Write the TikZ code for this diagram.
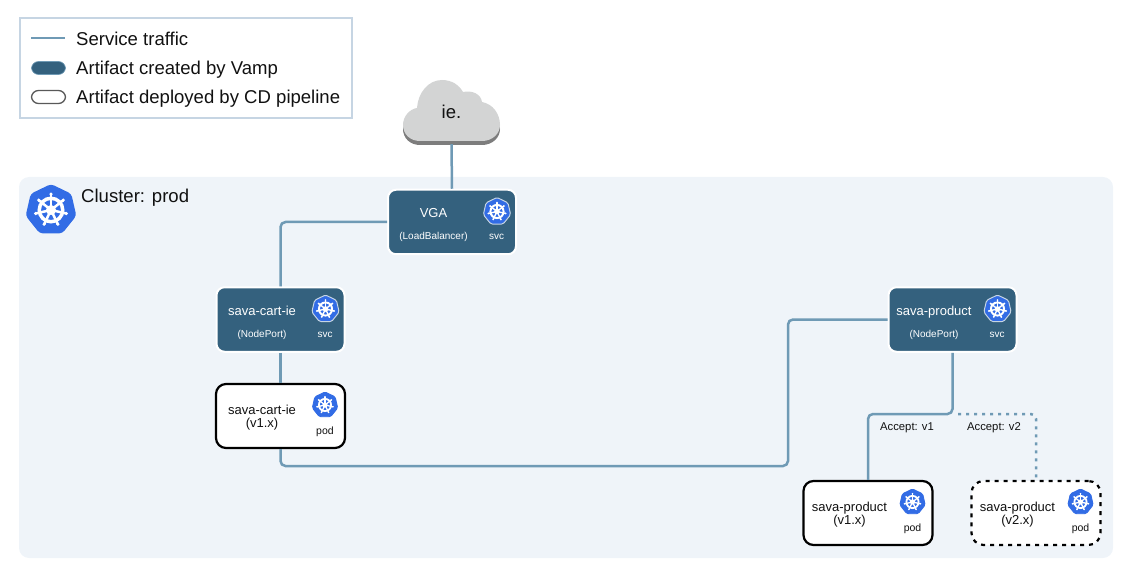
\documentclass[tikz,border=0pt]{standalone}
\usepackage{fontspec,xcolor}
\setmainfont{Liberation Sans}
\usetikzlibrary{calc}
\definecolor{ink}{HTML}{111111}
\definecolor{clusterbg}{HTML}{EFF4F9}
\definecolor{legendline}{HTML}{C6D5E3}
\definecolor{traffic}{HTML}{6F9AB5}
\definecolor{vampfill}{HTML}{34617E}
\definecolor{kubeblue}{HTML}{326CE5}
\definecolor{cloudtop}{HTML}{D3D4D4}
\definecolor{cloudlow}{HTML}{7D7D7D}
\newcommand{\legendfont}{\fontsize{18.55}{21}\selectfont}
\newcommand{\titlefont}{\fontsize{13}{15}\selectfont}
\newcommand{\microfont}{\fontsize{10.5}{12}\selectfont}
\tikzset{traffic line/.style={traffic,line width=2.5pt,rounded corners=5pt},
  canary line/.style={traffic,line width=2.5pt,dash pattern=on 3pt off 5pt,rounded corners=5pt},
  svcbox/.style={rectangle,fill=vampfill,draw=white,line width=2pt,rounded corners=8pt,
    minimum width=128pt,minimum height=64.5pt,inner sep=0},
  podbox/.style={rectangle,fill=white,draw=black,line width=2.2pt,rounded corners=10pt,
    minimum width=129pt,minimum height=64pt,inner sep=0},
  plain text/.style={inner sep=0,text=ink,align=center,anchor=base},
  light text/.style={inner sep=0,text=white,align=center,anchor=base},
  legendswatch/.style={rectangle,rounded corners=7pt,minimum width=34pt,minimum height=13pt,inner sep=0}}
\newcommand{\helm}[3][kubeblue]{\begin{scope}[shift={(#2)},x=#3pt,y=#3pt]
  \filldraw[fill=kubeblue,draw=#1,line width={0.07*#3pt},rounded corners={0.12*#3pt}]
    (90:1) \foreach \k in {1,...,6} {-- ({90+\k*360/7}:1)} -- cycle;
  \draw[white,line width={0.14*#3pt}] (0,0) circle (0.47);
  \fill[white] (0,0) circle (0.2);
  \foreach \k in {0,...,6} {
    \draw[white,line width={0.1*#3pt}] (0,0) -- ({90+\k*360/7}:0.63);
    \fill[white] ({90+\k*360/7}:0.63) circle (0.07);}
\end{scope}}
\newcommand{\svc}[4]{\node[svcbox] (#1) at (#2) {};
  \node[light text,font=\titlefont] (#1-title) at ($(#1)+(-18.5,4.5)$) {#3};
  \node[light text,font=\fontsize{10}{12}\selectfont] (#1-kind) at ($(#1)+(-18.5,-17.5)$) {#4};
  \node[light text,font=\fontsize{10}{12}\selectfont] (#1-tag) at ($(#1)+(44.5,-17.5)$) {svc};
  \coordinate (#1-icon) at ($(#1)+(45,10.5)$);
  \helm[legendline]{#1-icon}{14}}
\newcommand{\pod}[5][podbox]{\node[#1] (#2) at (#3) {};
  \node[plain text,font=\titlefont] (#2-title) at ($(#2)+(-18.5,1.5)$) {#4};
  \node[plain text,font=\titlefont] (#2-version) at ($(#2)+(-18.5,-11.5)$) {#5};
  \node[plain text,font=\microfont] (#2-tag) at ($(#2)+(44.5,-18)$) {pod};
  \coordinate (#2-icon) at ($(#2)+(44.5,11)$);
  \helm{#2-icon}{13}}
\newcommand{\cloudoutline}{(420,433) .. controls (410,433) and (403,440) .. (403,449)
  .. controls (403,458) and (410,465) .. (417,466)
  .. controls (418,481) and (428,494) .. (442,494)
  .. controls (452,494) and (459,489) .. (463,482)
  .. controls (472,484) and (481,480) .. (482,472)
  .. controls (493,470) and (500,460) .. (500,449)
  .. controls (500,440) and (492,433) .. (482,433) -- cycle}

\begin{document}
\begin{tikzpicture}[x=1pt,y=1pt]
\useasboundingbox (0,0) rectangle (1130,574);
\fill[clusterbg,rounded corners=10pt] (19,16) rectangle (1113,397);
\draw[legendline,line width=2pt] (19.5,455.5) rectangle (351.5,555.5);

\coordinate (legend-a) at (31,536);
\coordinate (legend-b) at (65,536);
\draw[traffic,line width=2pt] (legend-a) -- (legend-b);
\node[plain text,anchor=base west,font=\legendfont] (legend-traffic) at (76,528) {Service traffic};
\node[legendswatch,fill=vampfill,draw=traffic,line width=0.6pt] (legend-vamp) at (48.5,506) {};
\node[plain text,anchor=base west,font=\legendfont] (legend-vamptext) at (76,499) {Artifact created by Vamp};
\node[legendswatch,fill=white,draw=black!65,line width=1.3pt] (legend-cd) at (48.5,477) {};
\node[plain text,anchor=base west,font=\legendfont] (legend-cdtext) at (76,470) {Artifact deployed by CD pipeline};

\coordinate (cluster-icon) at (51,364);
\helm{cluster-icon}{25}
\node[plain text,anchor=base west,font=\legendfont] (cluster-label) at (81,371) {Cluster: prod};

\fill[cloudlow,shift={(0,-4)}] \cloudoutline;
\fill[cloudtop] \cloudoutline;
\node[plain text,anchor=center,font=\legendfont,minimum width=97pt,minimum height=64pt] (cloud) at (451.5,462) {ie.};

\svc{vga}{452,352}{VGA}{(LoadBalancer)}
\svc{cartsvc}{280.5,254.5}{sava-cart-ie}{(NodePort)}
\svc{prodsvc}{952.5,254.5}{sava-product}{(NodePort)}
\pod{cartpod}{280.5,158}{sava-cart-ie}{(v1.x)}
\pod{prodv1}{868,61}{sava-product}{(v1.x)}
\pod[podbox,dash pattern=on 4pt off 5pt,rounded corners=12pt]{prodv2}{1036,61}{sava-product}{(v2.x)}

\coordinate (busturn) at (788,108);
\coordinate (split) at (952.5,160);
\coordinate (canary) at (958,160);

\draw[traffic line] (cloud.south) -- (vga.north);
\draw[traffic line] (vga.west) -| (cartsvc.north);
\draw[traffic line] (cartsvc.south) -- (cartpod.north);
\draw[traffic line] (cartpod.south) |- (busturn) |- (prodsvc.west);
\draw[traffic line] (prodsvc.south) -- (split) -| (prodv1.north);
\draw[canary line] (canary) -| (prodv2.north);

\node[plain text,font=\fontsize{11.3}{13}\selectfont] (accept-v1) at (907,144) {Accept: v1};
\node[plain text,font=\fontsize{11.3}{13}\selectfont] (accept-v2) at (994,144) {Accept: v2};
\end{tikzpicture}
\end{document}
